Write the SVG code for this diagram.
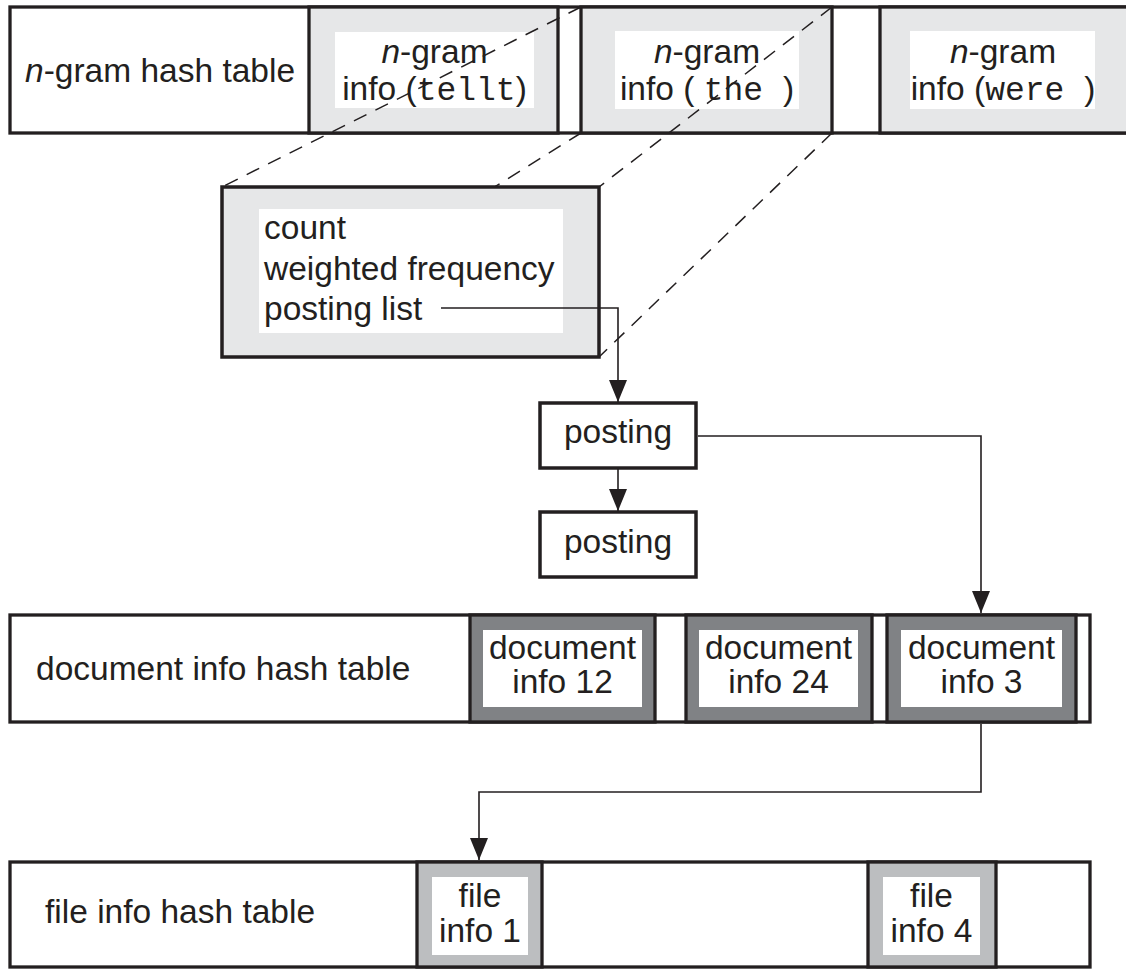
<svg xmlns="http://www.w3.org/2000/svg" width="1126" height="969" viewBox="0 0 1126 969">
  <style>
    .t { font-family: "Liberation Sans", Arial, sans-serif; font-size: 33.5px; fill: #231f20; white-space: pre; }
    .m { font-family: "Liberation Mono", "Courier New", monospace; font-size: 33px; }
    .it { font-style: italic; }
    .row { fill: #ffffff; stroke: #231f20; stroke-width: 3.3; }
    .c1 { fill: #e6e7e8; stroke: #231f20; stroke-width: 3.3; }
    .c2 { fill: #808285; stroke: #231f20; stroke-width: 3.3; }
    .c3 { fill: #bcbec0; stroke: #231f20; stroke-width: 3.3; }
    .inner { fill: #ffffff; }
    .box { fill: #ffffff; stroke: #231f20; stroke-width: 3.5; }
    .dash { fill: none; stroke: #231f20; stroke-width: 1.5; stroke-dasharray: 14 10; }
    .conn { fill: none; stroke: #231f20; stroke-width: 1.6; }
  </style>
  <defs>
    <marker id="arrow" viewBox="0 0 22 18" refX="22" refY="9" markerWidth="22" markerHeight="18" orient="auto" markerUnits="userSpaceOnUse">
      <path d="M0,0 L22,9 L0,18 z" fill="#231f20"/>
    </marker>
  </defs>

  <!-- n-gram hash table -->
  <g id="ngram-table">
    <rect class="row" x="10" y="7" width="1130" height="126"/>
    <text class="t" x="25" y="82"><tspan class="it">n</tspan>-gram hash table</text>
  </g>
  <g id="ngram-tellt">
    <rect class="c1" x="309" y="7" width="249" height="126"/>
    <rect class="inner" x="335" y="32" width="199" height="76"/>
    <text class="t" x="434.5" y="63" text-anchor="middle"><tspan class="it">n</tspan>-gram</text>
    <text class="t" x="434.5" y="100" text-anchor="middle">info (<tspan class="m">tellt</tspan>)</text>
  </g>
  <g id="ngram-the">
    <rect class="c1" x="581" y="7" width="251" height="126"/>
    <rect class="inner" x="615" y="31" width="184" height="78"/>
    <text class="t" x="707" y="63" text-anchor="middle"><tspan class="it">n</tspan>-gram</text>
    <text class="t" x="707" y="100" text-anchor="middle">info ( <tspan class="m">the </tspan>)</text>
  </g>
  <g id="ngram-were">
    <rect class="c1" x="880" y="7" width="260" height="126"/>
    <rect class="inner" x="910" y="31" width="185" height="78"/>
    <text class="t" x="1003" y="63" text-anchor="middle"><tspan class="it">n</tspan>-gram</text>
    <text class="t" x="1003" y="100" text-anchor="middle">info (<tspan class="m">were </tspan>)</text>
  </g>

  <!-- projection lines (under the detail box) -->
  <g id="projection-lines">
    <line class="dash" x1="581" y1="7" x2="222" y2="187"/>
    <line class="dash" x1="581" y1="133" x2="222" y2="357"/>
    <line class="dash" x1="832" y1="7" x2="599" y2="187"/>
    <line class="dash" x1="832" y1="133" x2="599" y2="357"/>
  </g>

  <!-- detail box -->
  <g id="ngram-detail">
    <rect class="c1" x="222" y="187" width="377" height="170" style="stroke-width:3.5"/>
    <rect class="inner" x="259" y="209" width="304" height="124"/>
    <text class="t" x="264" y="239">count</text>
    <text class="t" x="264" y="280">weighted frequency</text>
    <text class="t" x="264" y="320">posting list</text>
  </g>

  <!-- postings -->
  <g id="posting-1">
    <rect class="box" x="540" y="403" width="156" height="65"/>
    <text class="t" x="618" y="443" text-anchor="middle">posting</text>
  </g>
  <g id="posting-2">
    <rect class="box" x="540" y="512" width="156" height="65"/>
    <text class="t" x="618" y="553" text-anchor="middle">posting</text>
  </g>

  <!-- document info hash table -->
  <g id="doc-table">
    <rect class="row" x="10" y="615" width="1080" height="107"/>
    <text class="t" x="36" y="680">document info hash table</text>
  </g>
  <g id="doc-12">
    <rect class="c2" x="470" y="615" width="185" height="107"/>
    <rect class="inner" x="483" y="630" width="159" height="77"/>
    <text class="t" x="562.5" y="659" text-anchor="middle">document</text>
    <text class="t" x="562.5" y="693" text-anchor="middle">info 12</text>
  </g>
  <g id="doc-24">
    <rect class="c2" x="686" y="615" width="186" height="107"/>
    <rect class="inner" x="699" y="630" width="159" height="77"/>
    <text class="t" x="778.5" y="659" text-anchor="middle">document</text>
    <text class="t" x="778.5" y="693" text-anchor="middle">info 24</text>
  </g>
  <g id="doc-3">
    <rect class="c2" x="887" y="615" width="189" height="107"/>
    <rect class="inner" x="901" y="630" width="161" height="77"/>
    <text class="t" x="981.5" y="659" text-anchor="middle">document</text>
    <text class="t" x="981.5" y="693" text-anchor="middle">info 3</text>
  </g>

  <!-- file info hash table -->
  <g id="file-table">
    <rect class="row" x="10" y="862" width="1080" height="105"/>
    <text class="t" x="45" y="923">file info hash table</text>
  </g>
  <g id="file-1">
    <rect class="c3" x="417" y="862" width="125" height="105"/>
    <rect class="inner" x="432" y="877" width="96" height="78"/>
    <text class="t" x="480" y="907" text-anchor="middle">file</text>
    <text class="t" x="480" y="942" text-anchor="middle">info 1</text>
  </g>
  <g id="file-4">
    <rect class="c3" x="868" y="862" width="128" height="105"/>
    <rect class="inner" x="883" y="877" width="97" height="78"/>
    <text class="t" x="931.5" y="907" text-anchor="middle">file</text>
    <text class="t" x="931.5" y="942" text-anchor="middle">info 4</text>
  </g>

  <!-- connectors -->
  <g id="connectors">
    <polyline class="conn" points="441,308 618,308 618,402" marker-end="url(#arrow)"/>
    <line class="conn" x1="618" y1="469" x2="618" y2="511" marker-end="url(#arrow)"/>
    <polyline class="conn" points="698,436 981,436 981,613" marker-end="url(#arrow)"/>
    <polyline class="conn" points="981,724 981,792 479,792 479,860" marker-end="url(#arrow)"/>
  </g>
</svg>
